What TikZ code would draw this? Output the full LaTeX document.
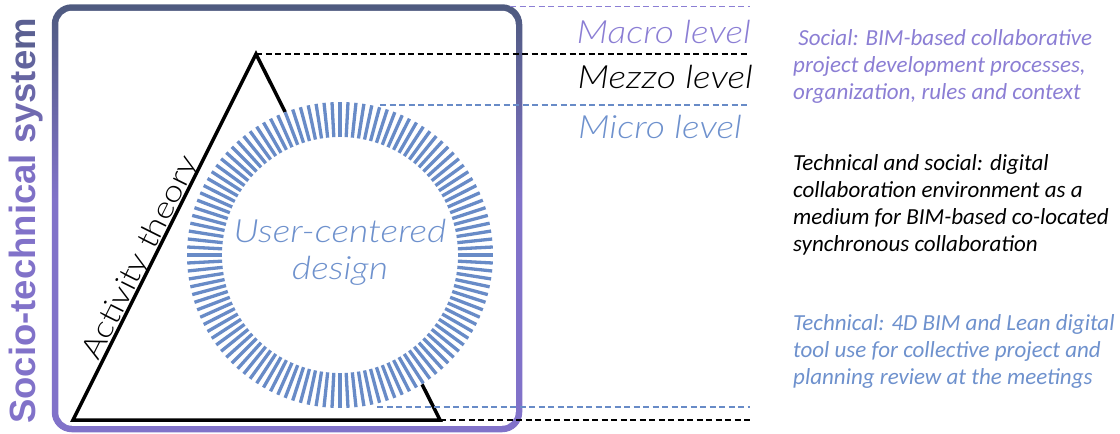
\documentclass[tikz,border=0pt]{standalone}
\usepackage{fontspec}
\usetikzlibrary{calc}
\setmainfont{Lato}
\IfFontExistsTF{Lato Light}{\newfontfamily\lightf{Lato Light}[FakeStretch=1.17]}{\newfontfamily\lightf{Lato}[FakeStretch=1.12]}
\newfontfamily\carl{Carlito}
\newfontfamily\sysf{Liberation Sans}
\definecolor{purp}{RGB}{129,114,201}
\definecolor{darkb}{RGB}{78,90,127}
\definecolor{lpurp}{RGB}{139,126,212}
\definecolor{ringblue}{RGB}{104,139,199}
\definecolor{tblue}{RGB}{110,145,205}
\pgfdeclareverticalshading{bordershade}{100bp}{color(0bp)=(purp); color(52bp)=(purp); color(75bp)=(darkb); color(100bp)=(darkb)}
\newcommand\mixl[2]{\textcolor{purp!#1!darkb}{#2}}
\begin{document}
\begin{tikzpicture}[x=1pt,y=-1pt,
  tri/.style={line width=3.5pt, black, line join=miter},
  tickmark/.style={line width=3.3pt, ringblue},
  lvl/.style={font=\lightf\itshape\fontsize{32}{36}\selectfont, inner sep=0pt, anchor=base east},
  dsh/.style={line width=1.5pt, dash pattern=on 6pt off 3.5pt},
  desc/.style={font=\carl\itshape\fontsize{23}{27}\selectfont, inner sep=0pt, anchor=base west}]
\useasboundingbox (0,0) rectangle (1120,434);
% socio-technical frame
\shade[shading=bordershade, rounded corners=20pt] (51.75,4.25) rectangle (522.25,432.25);
\fill[white, rounded corners=13.75pt] (58.25,10.75) rectangle (515.75,425.75);
\node[rotate=90, anchor=base west, inner sep=0pt, font=\sysf\bfseries\fontsize{36.5}{40}\selectfont] (sts) at (35.5,424)
  {\color{purp}Socio-tech\mixl{100}{n}\mixl{98}{i}\mixl{96}{c}\mixl{94}{a}\mixl{89}{l} \mixl{78}{s}\mixl{67}{y}\mixl{56}{s}\mixl{48}{t}\mixl{40}{e}\mixl{25}{m}};
% triangle
\coordinate (A) at (256,54);
\coordinate (BL) at (73,420);
\coordinate (BR) at (440,420);
\draw[tri] (A) -- (BL) -- (BR) -- cycle;
% ring
\coordinate (C) at (340,255);
\fill[white] (C) circle (153);
\foreach \a in {0,3,...,357} \draw[tickmark] ($(C)+(\a:118)$) -- ($(C)+(\a:153)$);
\node[inner sep=0pt, anchor=base, text=tblue, font=\lightf\itshape\fontsize{32}{37}\selectfont] (ucd) at (340,242)
  {\begin{tabular}[t]{@{}c@{}}User-centered\\design\end{tabular}};
\node[inner sep=0pt, anchor=base, rotate=63.43, font=\lightf\fontsize{30}{34}\selectfont] (act) at (148.5,262) {Activity theory};
% levels
\node[lvl, text=lpurp] (macro) at (751,43) {Macro level};
\node[lvl, text=black] (mezzo) at (753,88) {Mezzo level};
\node[lvl, text=tblue] (micro) at (742,138) {Micro level};
\coordinate (p0) at (510,6.7); \coordinate (p1) at (750,6.7);
\coordinate (k1) at (750,54);
\coordinate (b0) at (380,105); \coordinate (b1) at (750,105);
\coordinate (c0) at (377,407); \coordinate (c1) at (750,407);
\coordinate (k2) at (750,420);
\draw[dsh, lpurp] (p0) -- (p1);
\draw[dsh, black] (A) -- (k1);
\draw[dsh, ringblue] (b0) -- (b1);
\draw[dsh, ringblue] (c0) -- (c1);
\draw[dsh, black] (BR) -- (k2);
% descriptions
\node[desc, text=lpurp] (soc) at (793,45) {\begin{tabular}[t]{@{}l@{}}\ Social: BIM-based collaborative\\project development processes,\\organization, rules and context\end{tabular}};
\node[desc, text=black] (tas) at (793,170) {\begin{tabular}[t]{@{}l@{}}Technical and social: digital\\collaboration environment as a\\medium for BIM-based co-located\\synchronous collaboration\end{tabular}};
\node[desc, text=tblue] (tec) at (793,330) {\begin{tabular}[t]{@{}l@{}}Technical: 4D BIM and Lean digital\\tool use for collective project and\\planning review at the meetings\end{tabular}};
\end{tikzpicture}
\end{document}
